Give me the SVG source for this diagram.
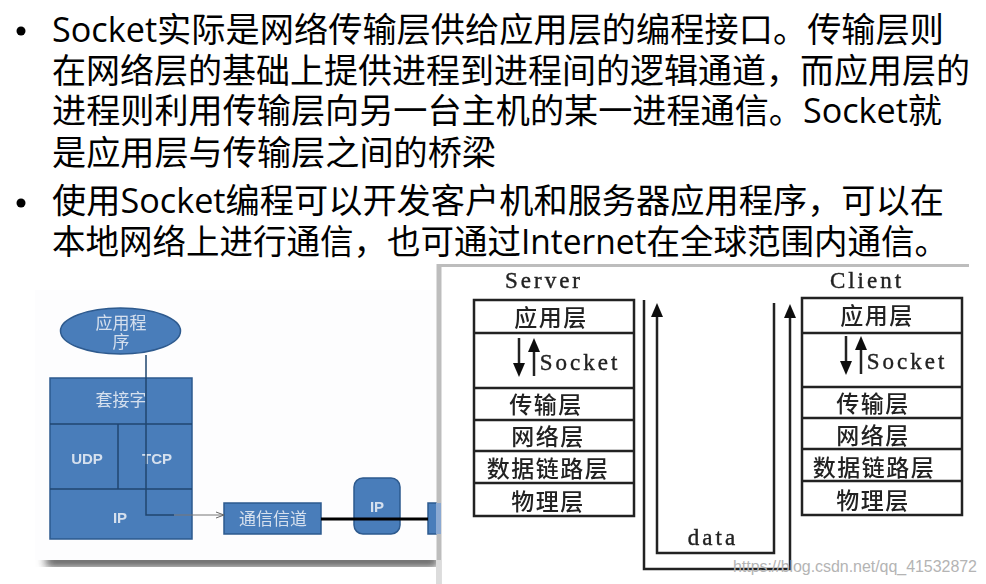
<svg xmlns="http://www.w3.org/2000/svg" width="986" height="584" viewBox="0 0 986 584">
<style>
.t{font-family:"Open Sans","Noto Sans CJK SC",sans-serif;font-size:34px;fill:#000}
.w{font-family:"Noto Sans CJK SC",sans-serif;fill:#d5e0ee;font-size:17px;text-anchor:middle}
.e{font-family:"Liberation Sans",sans-serif;fill:#d5e0ee;font-size:15px;text-anchor:middle;font-weight:bold}
.b{fill:#4a7dba;stroke:#2d5a8e;stroke-width:1.5}
.d{stroke:#1f456f;stroke-width:1.5;fill:none}
.k{font-family:"Noto Sans CJK SC",sans-serif;font-weight:500;font-size:23px;letter-spacing:1.5px;fill:#222;text-anchor:middle}
.l{font-family:"Liberation Serif",serif;font-size:23px;letter-spacing:3px;fill:#222;stroke:#222;stroke-width:.4;text-anchor:middle}
.s{fill:#fff;stroke:#222;stroke-width:2.5}
.c{fill:none;stroke:#222;stroke-width:2.5}
</style>
<defs>
<marker id="ah" markerUnits="userSpaceOnUse" markerWidth="15" markerHeight="14" refX="1" refY="7" orient="auto"><path d="M0 1L14 7L0 13Z" fill="#111"/></marker>
<marker id="sa" markerUnits="userSpaceOnUse" markerWidth="10" markerHeight="8" refX="9" refY="4" orient="auto"><path d="M1 1L9 4L1 7" fill="none" stroke="#666"/></marker>
<filter id="bl" x="0" y="0" width="100%" height="100%"><feGaussianBlur stdDeviation="0.6"/></filter>
<filter id="sh" x="-10%" y="-150%" width="120%" height="400%"><feGaussianBlur stdDeviation="5"/></filter>
</defs>
<rect width="986" height="584" fill="#fff"/>
<g id="text">
<circle cx="21" cy="31" r="4.500" fill="#000"/><circle cx="21" cy="203" r="4.500" fill="#000"/>
<text class="t" x="52" y="42" textLength="892" lengthAdjust="spacingAndGlyphs">Socket实际是网络传输层供给应用层的编程接口。传输层则</text>
<text class="t" x="52" y="83" textLength="918" lengthAdjust="spacingAndGlyphs">在网络层的基础上提供进程到进程间的逻辑通道，而应用层的</text>
<text class="t" x="52" y="123" textLength="890" lengthAdjust="spacingAndGlyphs">进程则利用传输层向另一台主机的某一进程通信。Socket就</text>
<text class="t" x="52" y="165" textLength="444" lengthAdjust="spacingAndGlyphs">是应用层与传输层之间的桥梁</text>
<text class="t" x="52" y="213" textLength="892" lengthAdjust="spacingAndGlyphs">使用Socket编程可以开发客户机和服务器应用程序，可以在</text>
<text class="t" x="52" y="254" textLength="896" lengthAdjust="spacingAndGlyphs">本地网络上进行通信，也可通过Internet在全球范围内通信。</text>
</g>
<g id="left-figure" filter="url(#bl)">
<rect x="46" y="555" width="392" height="12" fill="#555" filter="url(#sh)"/>
<rect x="35" y="290" width="402" height="270" fill="#fdfdfe"/>
<g id="app"><ellipse class="b" cx="120.500" cy="331" rx="60" ry="23"/><text class="w" x="121" y="329">应用程</text><text class="w" x="121" y="348">序</text></g>
<g id="stack"><rect class="b" x="50" y="378" width="142" height="161"/><line class="d" x1="50" y1="424" x2="192" y2="424"/><line class="d" x1="50" y1="489" x2="192" y2="489"/><line class="d" x1="118" y1="424" x2="118" y2="489"/>
<text class="w" x="121" y="406">套接字</text><text class="e" x="87" y="464">UDP</text><text class="e" x="157" y="464">TCP</text><text class="e" x="120" y="523">IP</text></g>
<g id="channel"><rect class="b" x="224" y="503" width="97" height="31"/><text class="w" x="273" y="525">通信信道</text></g>
<g id="ip"><rect class="b" x="354" y="478" width="46" height="56" rx="9"/><text class="e" x="377" y="512">IP</text></g>
<g id="next"><rect class="b" x="428" y="503" width="13" height="31"/></g>
<g id="left-connectors"><path d="M146 355V515H174" fill="none" stroke="#1f456f" stroke-width="1.500"/><path d="M174 515H224" fill="none" stroke="#777" stroke-width="1" marker-end="url(#sa)"/><path d="M321 519H428" stroke="#000" stroke-width="3" fill="none"/></g>
</g>
<g id="right-figure" filter="url(#bl)">
<rect x="439" y="264" width="530" height="320" fill="#fff"/>
<path d="M439 584V264.500H969" fill="none" stroke="#bdbdbd" stroke-width="5"/>
<rect x="436" y="503" width="5" height="31" fill="#8ba9d2"/>
<rect x="436" y="560" width="5" height="24" fill="#dcdcdc"/>
<text class="l" x="544" y="288">Server</text><text class="l" x="867" y="288">Client</text>
<g id="server"><rect class="s" x="474" y="300" width="160" height="216"/><path class="c" d="M474 333H634M474 388H634M474 420H634M474 451H634M474 483H634"/>
<text class="k" x="551" y="326">应用层</text><text class="l" x="580" y="370">Socket</text><text class="k" x="546" y="413">传输层</text><text class="k" x="548" y="445">网络层</text><text class="k" x="548" y="477">数据链路层</text><text class="k" x="548" y="510">物理层</text>
<path class="c" marker-end="url(#ah)" d="M519 338V364"/><path class="c" marker-end="url(#ah)" d="M534 376V351"/></g>
<g id="client"><rect class="s" x="802" y="298" width="160" height="217"/><path class="c" d="M802 333H962M802 387H962M802 418H962M802 449H962M802 481H962"/>
<text class="k" x="877" y="324">应用层</text><text class="l" x="907" y="369">Socket</text><text class="k" x="873" y="412">传输层</text><text class="k" x="873" y="444">网络层</text><text class="k" x="874" y="476">数据链路层</text><text class="k" x="873" y="509">物理层</text>
<path class="c" marker-end="url(#ah)" d="M846 336V362"/><path class="c" marker-end="url(#ah)" d="M861 374V349"/></g>
<g id="data"><path class="c" d="M644 300V569H790V317" marker-end="url(#ah)"/><path class="c" d="M774 303V553H657V316" marker-end="url(#ah)"/><text class="l" x="713" y="545">data</text></g>
</g>
<text x="733" y="572" font-family="Liberation Sans" font-size="16" fill="#b4b4b4" textLength="244">https://blog.csdn.net/qq_41532872</text>
</svg>
